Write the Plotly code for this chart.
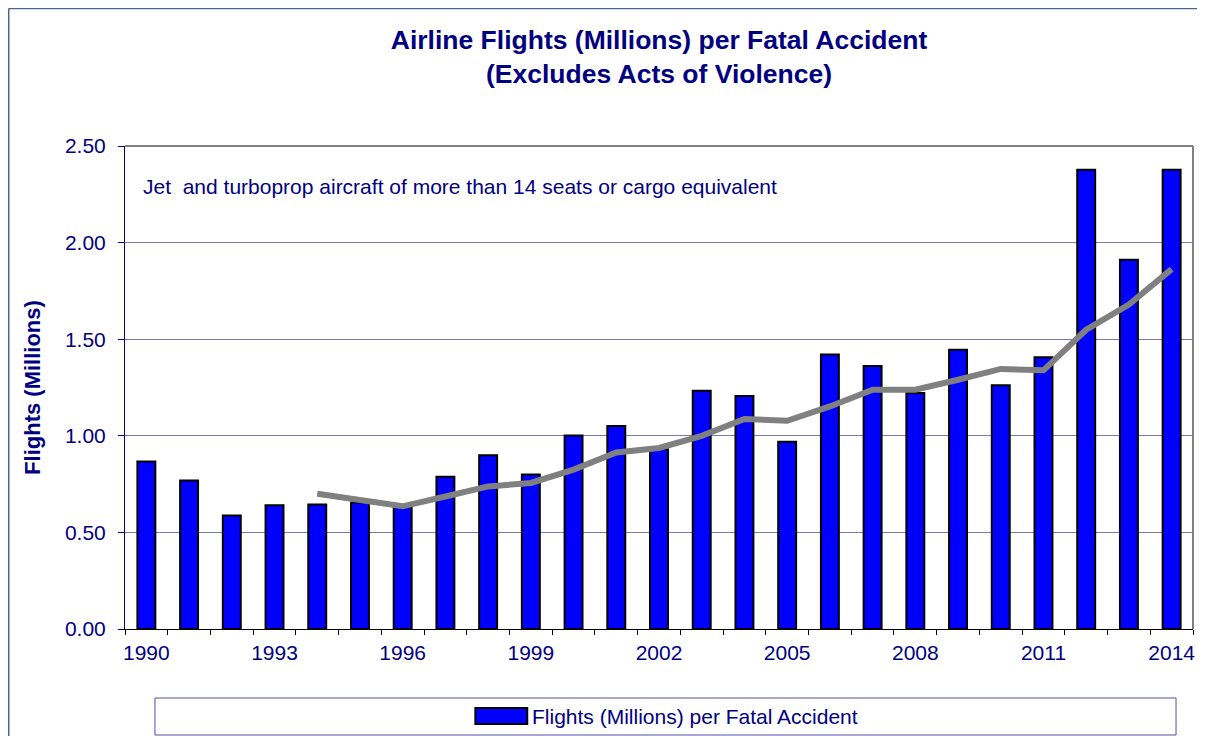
import plotly.graph_objects as go

years = list(range(1990, 2015))
flights_per_accident = [0.867, 0.768, 0.588, 0.640, 0.645, 0.655, 0.640, 0.788, 0.899, 0.800,
                        1.002, 1.051, 0.930, 1.233, 1.206, 0.969, 1.421, 1.361, 1.221, 1.446,
                        1.261, 1.406, 2.377, 1.911, 2.377]
avg_years = list(range(1994, 2015))
moving_avg = [0.700, 0.664, 0.635, 0.686, 0.738, 0.756, 0.825, 0.914, 0.937, 1.000,
              1.087, 1.078, 1.152, 1.239, 1.239, 1.290, 1.346, 1.339, 1.549, 1.679, 1.863]
label_years = [1990, 1993, 1996, 1999, 2002, 2005, 2008, 2011, 2014]
y_ticks = [0, 0.5, 1.0, 1.5, 2.0, 2.5]

NAVY = "#000080"
FONT = "Liberation Sans, Arial, sans-serif"

OFF = 8  # page body margin
W, H = 1205 - OFF, 736 - OFF
L, R, T, B = 117, 10, 138, 107
pw, ph = W - L - R, H - T - B

def px(x):  # page pixel -> paper
    return (x - OFF - L) / pw

def py(y):
    return (H - B - (y - OFF)) / ph

fig = go.Figure()
fig.add_trace(go.Bar(
    x=years, y=flights_per_accident, width=0.42,
    marker=dict(color="#0000FF", line=dict(color="black", width=2)),
    name="Flights (Millions) per Fatal Accident", showlegend=False,
))
fig.add_trace(go.Scatter(
    x=avg_years, y=moving_avg, mode="lines",
    line=dict(color="#808080", width=6), showlegend=False,
))

boundaries = [y - 0.5 for y in years] + [years[-1] + 0.5]

fig.update_layout(
    width=W, height=H,
    margin=dict(l=L, r=R, t=T, b=B),
    paper_bgcolor="white", plot_bgcolor="white",
    font=dict(family=FONT, color=NAVY, size=21),
    title=dict(
        text="<b>Airline Flights (Millions) per Fatal Accident<br>(Excludes Acts of Violence)</b>",
        x=0.5, xref="paper", xanchor="center",
        y=1 - 41 / H, yref="container", yanchor="middle",
        font=dict(family=FONT, size=26.5, color=NAVY),
    ),
    xaxis=dict(
        range=[years[0] - 0.5, years[-1] + 0.5],
        tickmode="array", tickvals=label_years, ticktext=[str(y) for y in label_years],
        ticks="", showgrid=False, zeroline=False,
        showline=True, linecolor="black", linewidth=1,
        tickfont=dict(family=FONT, size=21, color=NAVY),
        ticklabelstandoff=5,
        minor=dict(tickmode="array", tickvals=boundaries, ticks="outside",
                   ticklen=5, tickcolor="black", tickwidth=1, showgrid=False),
    ),
    yaxis=dict(
        range=[0, 2.5], tickmode="array", tickvals=y_ticks, tickformat=".2f",
        ticks="outside", ticklen=6, tickcolor=NAVY,
        showline=True, linecolor=NAVY, linewidth=1,
        showgrid=True, gridcolor="#7878bc", gridwidth=1, zeroline=False,
        tickfont=dict(family=FONT, size=21, color=NAVY),
        ticklabelstandoff=8,
        title=dict(text="<b>Flights (Millions)</b>", font=dict(family=FONT, size=22, color=NAVY),
                   standoff=18),
    ),
)

shapes = [
    # plot area top and right border
    dict(type="line", xref="paper", yref="paper", x0=0, x1=1, y0=1, y1=1,
         line=dict(color="#808080", width=2)),
    dict(type="line", xref="paper", yref="paper", x0=1, x1=1, y0=0, y1=1,
         line=dict(color="#808080", width=2)),
    # outer chart border
    dict(type="line", xref="paper", yref="paper", x0=px(8.5), x1=px(1210), y0=py(8.5), y1=py(8.5),
         line=dict(color="#4a6494", width=1.5)),
    dict(type="line", xref="paper", yref="paper", x0=px(8.5), x1=px(8.5), y0=py(8.5), y1=py(740),
         line=dict(color="#4a6494", width=1.5)),
    # legend box
    dict(type="rect", xref="paper", yref="paper", x0=px(155), x1=px(1178), y0=py(735), y1=py(698),
         line=dict(color="#5050a0", width=1), fillcolor="rgba(0,0,0,0)"),
    # legend swatch
    dict(type="rect", xref="paper", yref="paper", x0=px(476), x1=px(528), y0=py(724), y1=py(708),
         line=dict(color="black", width=2), fillcolor="#0000FF"),
]
fig.update_layout(shapes=shapes)

fig.add_annotation(
    text="Jet  and turboprop aircraft of more than 14 seats or cargo equivalent",
    xref="paper", yref="paper", x=px(141), y=py(186), xanchor="left", yanchor="middle",
    showarrow=False, font=dict(family=FONT, size=21, color=NAVY),
)
fig.add_annotation(
    text="Flights (Millions) per Fatal Accident",
    xref="paper", yref="paper", x=px(531), y=py(716), xanchor="left", yanchor="middle",
    showarrow=False, font=dict(family=FONT, size=21, color=NAVY),
)

fig.write_html("out.html")
